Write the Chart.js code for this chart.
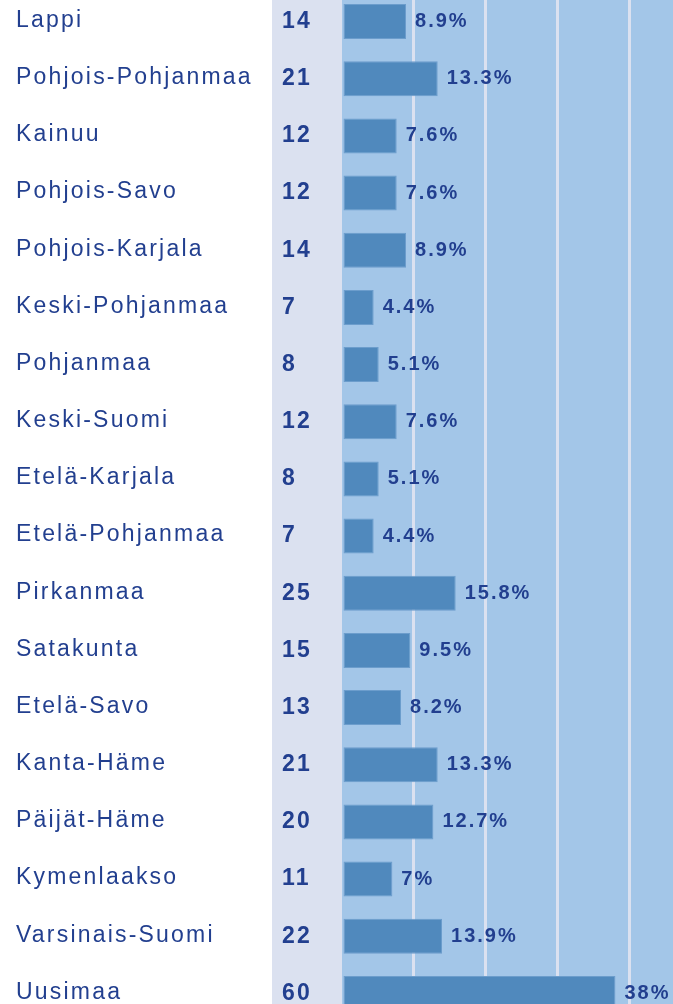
<!DOCTYPE html>
<html>
<head>
<meta charset="utf-8">
<script src="https://cdn.jsdelivr.net/npm/chart.js@4/dist/chart.umd.min.js"></script>
<style>
html, body { margin: 0; padding: 0; background: #fff; overflow: hidden; }
#wrap { position: absolute; left: 0; top: -7px; width: 673px; height: 1029px; }
</style>
</head>
<body>
<div id="wrap"><canvas id="chart"></canvas></div>
<script>
var regions = ['Lappi', 'Pohjois-Pohjanmaa', 'Kainuu', 'Pohjois-Savo', 'Pohjois-Karjala',
    'Keski-Pohjanmaa', 'Pohjanmaa', 'Keski-Suomi', 'Etelä-Karjala', 'Etelä-Pohjanmaa',
    'Pirkanmaa', 'Satakunta', 'Etelä-Savo', 'Kanta-Häme', 'Päijät-Häme', 'Kymenlaakso',
    'Varsinais-Suomi', 'Uusimaa'];
var counts = [14, 21, 12, 12, 14, 7, 8, 12, 8, 7, 25, 15, 13, 21, 20, 11, 22, 60];
var percents = [8.9, 13.3, 7.6, 7.6, 8.9, 4.4, 5.1, 7.6, 5.1, 4.4, 15.8, 9.5, 8.2, 13.3, 12.7, 7, 13.9, 38];

var navy = '#223f8f';
var lavender = '#dbe1f0';
var sky = '#a3c6e8';
var font = '"Liberation Sans", Arial, sans-serif';

// no extra padding around the axes, the rows fill the whole canvas
function noPad(scale) {
    scale.paddingTop = 0;
    scale.paddingBottom = 0;
    scale.paddingLeft = 0;
    scale.paddingRight = 0;
}

// paints the count column + plot background, and writes the % after each bar
var backdrop = {
    id: 'backdrop',
    beforeDraw: function(chart) {
        var ctx = chart.ctx;
        var area = chart.chartArea;
        var col = chart.scales.yCount;
        ctx.save();
        ctx.fillStyle = lavender;
        ctx.fillRect(col.left - 10, 0, area.left - col.left + 10, chart.height);
        ctx.fillStyle = sky;
        ctx.fillRect(area.left, 0, area.right - area.left, chart.height);
        ctx.restore();
        ctx.letterSpacing = '2.2px';   // region names are spaced out
    },
    beforeDatasetsDraw: function(chart) {
        chart.ctx.letterSpacing = '0px';
    },
    afterDatasetsDraw: function(chart) {
        var ctx = chart.ctx;
        var meta = chart.getDatasetMeta(0);
        ctx.save();
        ctx.letterSpacing = '2px';
        ctx.font = 'bold 20px ' + font;
        ctx.fillStyle = navy;
        ctx.textAlign = 'left';
        ctx.textBaseline = 'middle';
        meta.data.forEach(function(bar, i) {
            ctx.fillText(percents[i] + '%', bar.x + 9, bar.y);
        });
        ctx.restore();
    }
};

var ctx = document.getElementById('chart').getContext('2d');
var chart = new Chart(ctx, {
    type: 'bar',
    data: {
        labels: regions,
        datasets: [{
            data: percents,
            yAxisID: 'y',
            backgroundColor: '#5089bd',
            borderColor: '#6c9dcc',
            borderWidth: 1,
            borderSkipped: false,
            barPercentage: 0.612,
            categoryPercentage: 1
        }]
    },
    options: {
        indexAxis: 'y',
        responsive: true,
        maintainAspectRatio: false,
        animation: false,
        layout: { padding: { left: 16, right: 0, top: 0, bottom: 0 } },
        plugins: {
            legend: { display: false },
            tooltip: { enabled: false }
        },
        scales: {
            x: {
                min: 0,
                max: 46,
                grid: {
                    color: function(c) { return c.tick && c.tick.value === 0 ? 'rgba(0,0,0,0)' : lavender; },
                    lineWidth: 3,
                    drawTicks: false
                },
                border: { display: false },
                ticks: { display: false, stepSize: 10, includeBounds: false },
                afterFit: function(scale) { scale.height = 0; noPad(scale); }
            },
            y: {
                position: 'left',
                weight: 10,
                offset: true,
                grid: { display: false },
                border: { display: false },
                ticks: {
                    autoSkip: false,
                    crossAlign: 'far',
                    labelOffset: -1,
                    color: navy,
                    font: { family: font, size: 23 }
                },
                afterFit: function(scale) { scale.width = 266; noPad(scale); }
            },
            yCount: {
                type: 'category',
                axis: 'y',
                position: 'left',
                weight: 1,
                z: 1,
                offset: true,
                labels: counts.map(String),
                grid: { display: false },
                border: { display: false },
                ticks: {
                    autoSkip: false,
                    crossAlign: 'far',
                    labelOffset: 0,
                    color: navy,
                    font: { family: font, size: 23, weight: 'bold' }
                },
                afterFit: function(scale) { scale.width = 60; noPad(scale); }
            }
        }
    },
    plugins: [backdrop]
});
</script>
</body>
</html>
